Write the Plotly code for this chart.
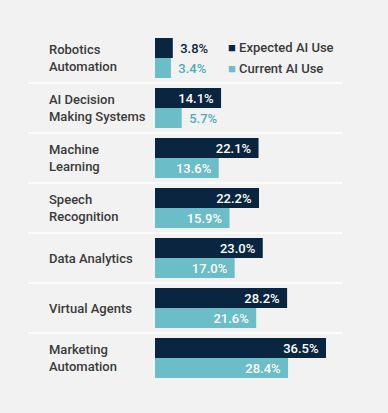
import plotly.graph_objects as go

categories = ["Robotics<br>Automation", "AI Decision<br>Making Systems", "Machine<br>Learning",
              "Speech<br>Recognition", "Data Analytics", "Virtual Agents", "Marketing<br>Automation"]
expected = [3.8, 14.1, 22.1, 22.2, 23.0, 28.2, 36.5]
current = [3.4, 5.7, 13.6, 15.9, 17.0, 21.6, 28.4]
series_names = ["Expected AI Use", "Current AI Use"]

NAVY = "#0a2540"
TEAL = "#6bbdc7"
TEAL_TXT = "#4aaebb"
GRAY = "#3a3a3a"
BG = "#f2f2f2"
FONT = "Roboto"

W, H = 388, 413
L, R, T, B = 155, 45, 33, 30
PX_PER_UNIT = 4.685
plot_w = W - L - R

def pos_for(vals, thr):
    return ["inside" if v >= thr else "outside" for v in vals]

def texts(vals, positions):
    out = []
    for v, p in zip(vals, positions):
        s = f"{v:.1f}%"
        out.append(s + "\u2004" if p == "inside" else "\u2004" + s)
    return out

exp_pos = pos_for(expected, 10)
cur_pos = pos_for(current, 10)

fig = go.Figure()
fig.add_trace(go.Bar(
    y=categories, x=expected, orientation="h", name=series_names[0],
    marker=dict(color=NAVY, line=dict(width=0)),
    text=texts(expected, exp_pos), textposition=exp_pos, insidetextanchor="end",
    insidetextfont=dict(color="white", size=13, family=FONT, weight=500),
    outsidetextfont=dict(color=NAVY, size=13, family=FONT, weight=500),
    textangle=0, constraintext="none", cliponaxis=False, showlegend=False,
))
fig.add_trace(go.Bar(
    y=categories, x=current, orientation="h", name=series_names[1],
    marker=dict(color=TEAL, line=dict(width=0)),
    text=texts(current, cur_pos), textposition=cur_pos, insidetextanchor="end",
    insidetextfont=dict(color="white", size=13, family=FONT, weight=500),
    outsidetextfont=dict(color=TEAL_TXT, size=13, family=FONT, weight=500),
    textangle=0, constraintext="none", cliponaxis=False, showlegend=False,
))

shapes = []
for i in range(len(categories) - 1):
    shapes.append(dict(type="line", xref="paper", yref="y",
                       x0=(28 - L) / plot_w, x1=1.0, y0=i + 0.5, y1=i + 0.5,
                       line=dict(color="white", width=1.5), layer="below"))

annotations = []
for c in categories:
    annotations.append(dict(xref="paper", yref="y", x=(47 - L) / plot_w, y=c,
                            xanchor="left", yanchor="middle", align="left",
                            text=c, showarrow=False,
                            font=dict(family=FONT, size=13, color=GRAY, weight=500)))

# legend as text entries
for k, (name, col) in enumerate(zip(series_names, [NAVY, TEAL])):
    annotations.append(dict(xref="paper", yref="paper",
                            x=(226 - L) / plot_w, y=1 - (48 + 20 * k - T) / (H - T - B),
                            xanchor="left", yanchor="middle", showarrow=False,
                            text=f"<span style='color:{col}'>■</span> {name}",
                            font=dict(family=FONT, size=13, color=GRAY, weight=500)))

fig.update_layout(
    width=W, height=H, margin=dict(l=L, r=R, t=T, b=B),
    paper_bgcolor=BG, plot_bgcolor=BG,
    barmode="group", bargap=0.2, bargroupgap=0,
    xaxis=dict(range=[0, plot_w / PX_PER_UNIT], visible=False, fixedrange=True),
    yaxis=dict(autorange="reversed", showticklabels=False, showgrid=False,
               zeroline=False, showline=False, ticks="", fixedrange=True),
    shapes=shapes, annotations=annotations,
    font=dict(family=FONT),
)

fig.write_html("out.html", config={"displayModeBar": False},
               post_script="document.body.style.margin='0';document.body.style.background='%s';" % BG)
